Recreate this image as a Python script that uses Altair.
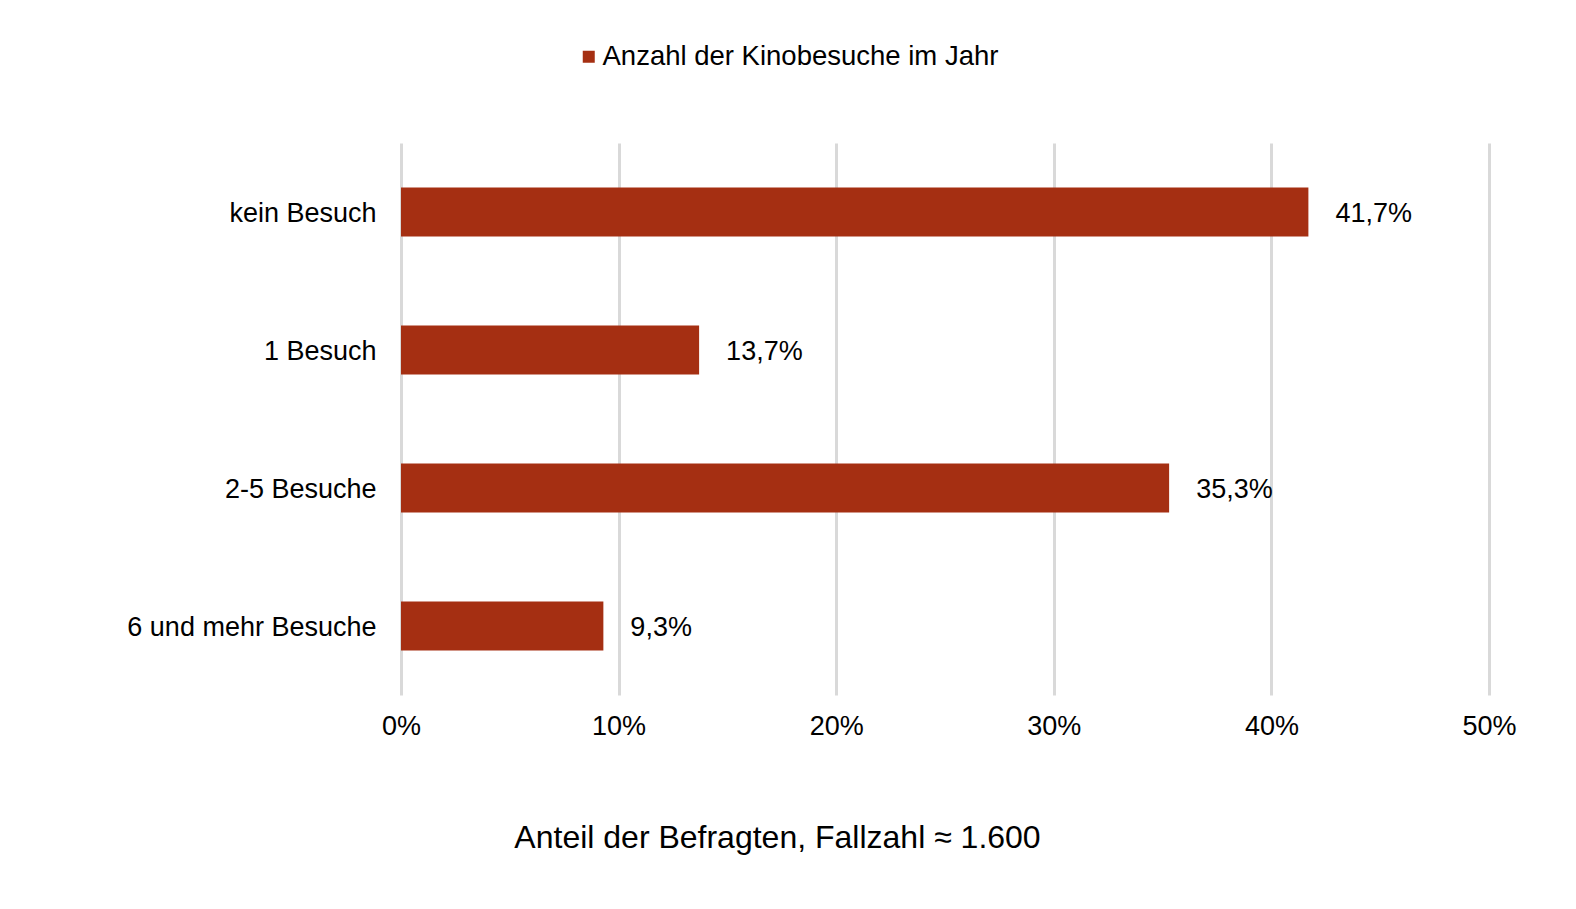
import altair as alt
import pandas as pd

categories = ["kein Besuch", "1 Besuch", "2-5 Besuche", "6 und mehr Besuche"]
values = [41.7, 13.7, 35.3, 9.3]
series_name = "Anzahl der Kinobesuche im Jahr"
x_ticks = [0, 10, 20, 30, 40, 50]
axis_title = "Anteil der Befragten, Fallzahl ≈ 1.600"

labels = [f"{v:.1f}".replace(".", ",") + "%" for v in values]

df = pd.DataFrame({"cat": categories, "val": values, "series": [series_name] * len(values), "label": labels})

FONT = "Liberation Sans"
BAR = "#a52f12"
FS = 27

y_enc = alt.Y(
    "cat:N",
    sort=categories,
    scale=alt.Scale(paddingInner=0.645, paddingOuter=0.3225),
    axis=alt.Axis(title=None, labelFontSize=FS, labelPadding=25, ticks=False, domain=False,
                  labelColor="#000000", labelFont=FONT, labelLimit=600, labelOffset=2),
)

bars = alt.Chart(df).mark_bar().encode(
    y=y_enc,
    x=alt.X(
        "val:Q",
        scale=alt.Scale(domain=[0, 50], nice=False),
        axis=alt.Axis(values=x_ticks, labelExpr="datum.value + '%'", grid=True, gridColor="#d9d9d9",
                      gridWidth=3, domain=False, ticks=False, labelFontSize=FS, labelFont=FONT,
                      labelColor="#000000", labelPadding=18, labelFlush=False, title=axis_title,
                      titleFont=FONT, titleFontSize=32, titleFontWeight="normal", titleColor="#000000",
                      titleX=376, titleY=152, titleBaseline="alphabetic", titleAnchor="middle",
                      titleAlign="center", titleLimit=1200),
    ),
    color=alt.Color(
        "series:N",
        scale=alt.Scale(range=[BAR]),
        legend=alt.Legend(title=None, orient="none", legendX=174, legendY=-100, symbolType="square",
                          symbolSize=144, symbolStrokeWidth=0, labelFontSize=27.5, labelFont=FONT,
                          labelColor="#000000", labelOffset=0, padding=0, labelLimit=800),
    ),
)

text = alt.Chart(df).mark_text(align="left", baseline="middle", dx=27, dy=2, fontSize=FS, font=FONT,
                               color="#000000").encode(
    y=alt.Y("cat:N", sort=categories),
    x=alt.X("val:Q"),
    text="label:N",
)

chart = (bars + text).properties(
    width=1088,
    height=552,
    autosize=alt.AutoSizeParams(type="none"),
    padding={"left": 393, "top": 135, "right": 78, "bottom": 195},
).configure_view(stroke=None)

chart.save("out.html", embed_options={"renderer": "svg", "actions": False})
